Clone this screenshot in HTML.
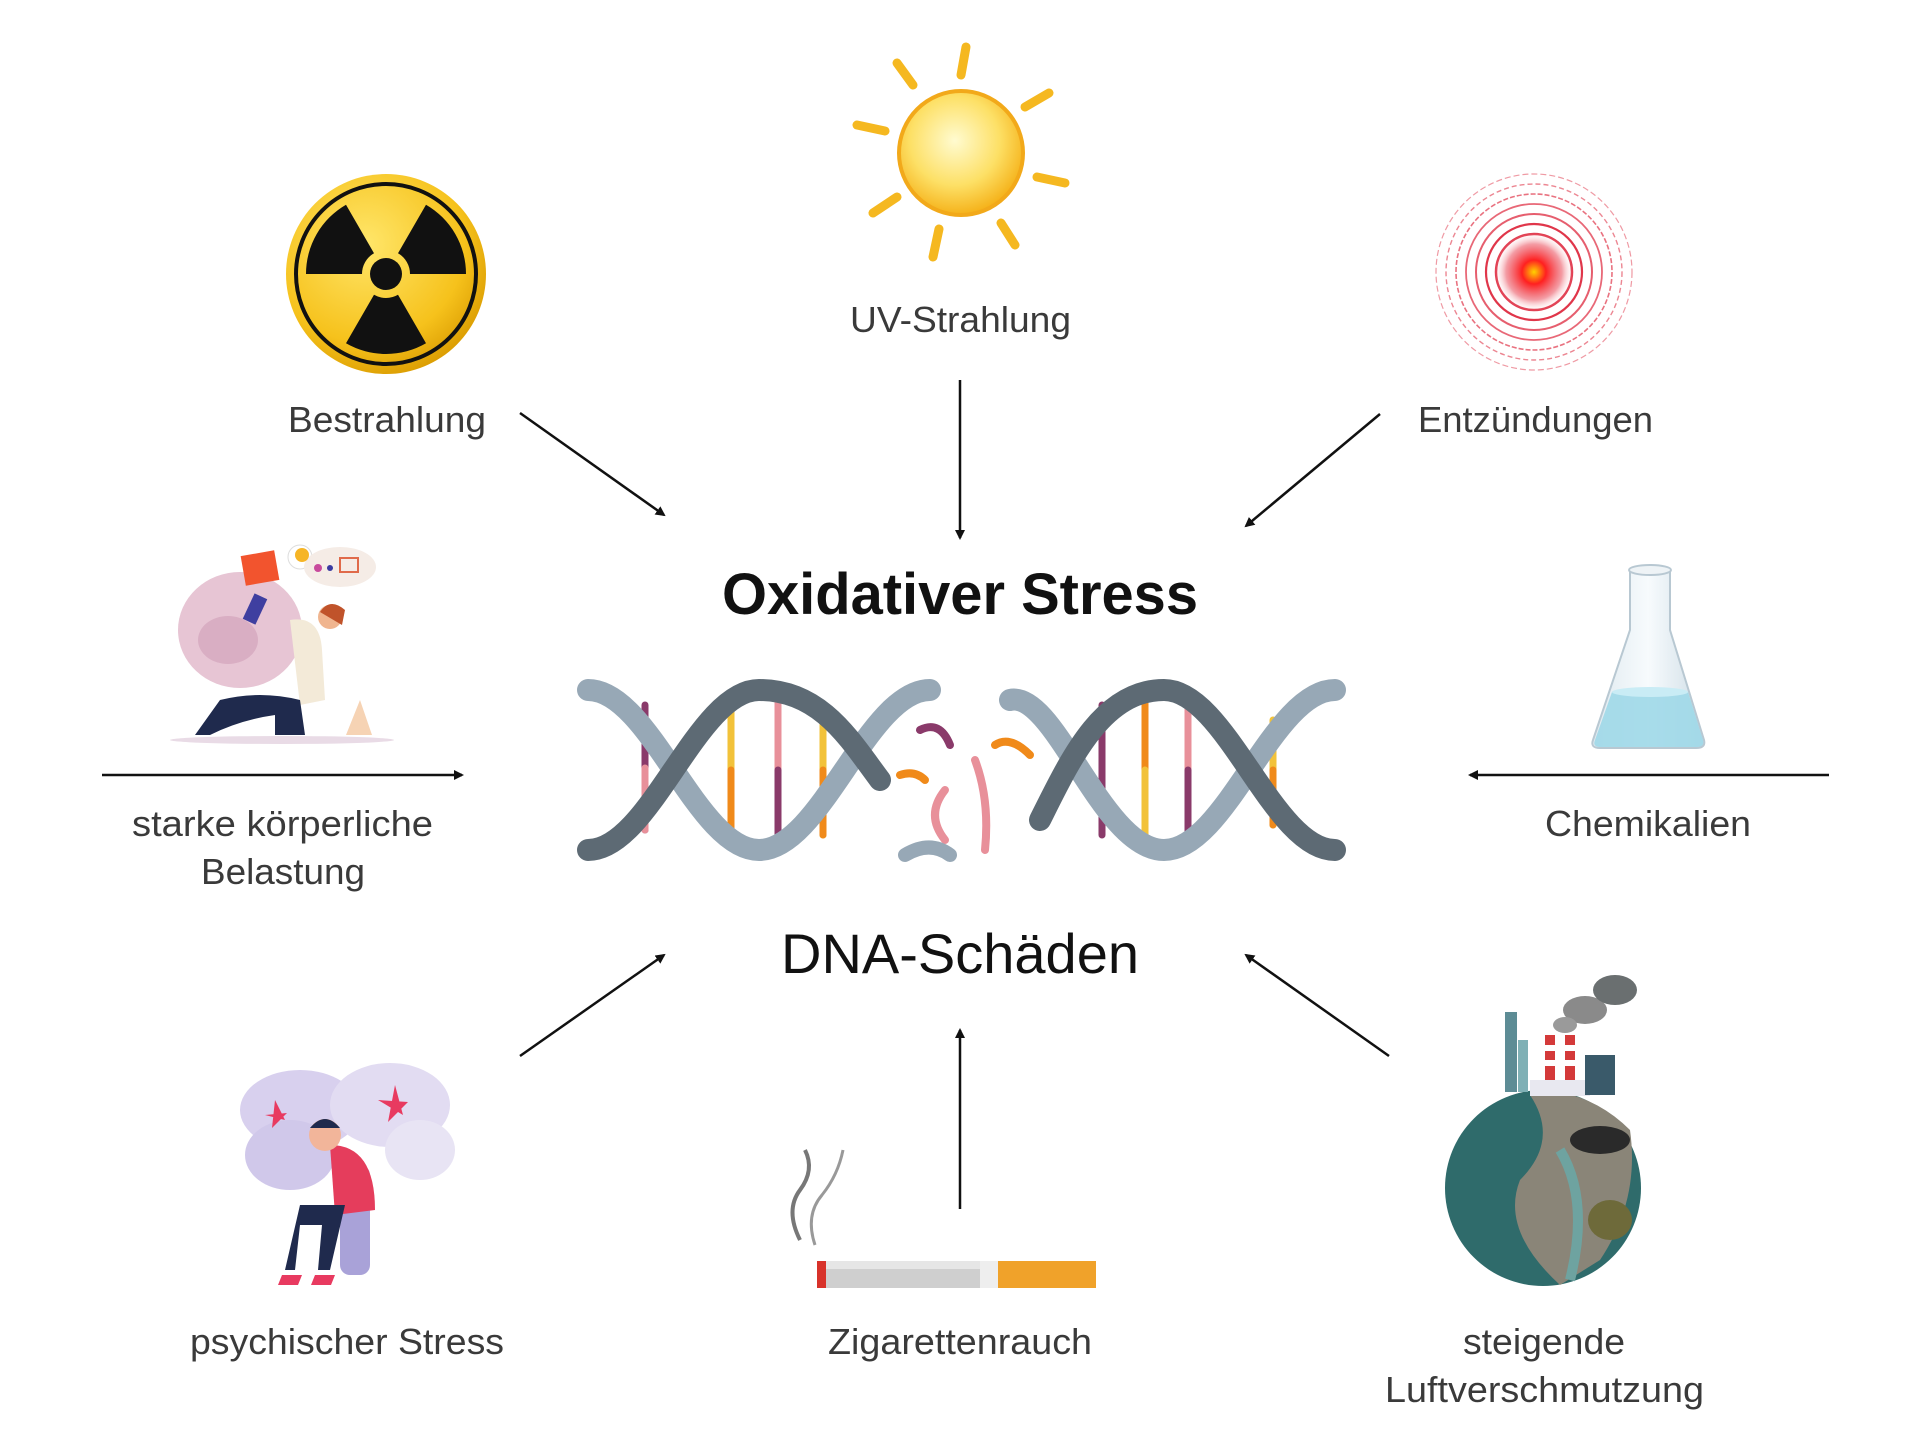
<!DOCTYPE html>
<html><head><meta charset="utf-8"><style>
html,body{margin:0;padding:0;background:#fff}
svg{display:block}
text{font-family:"Liberation Sans",sans-serif;fill:#3a3a3a}
</style></head><body>
<svg width="1920" height="1449" viewBox="0 0 1920 1449" xmlns="http://www.w3.org/2000/svg">
<defs>
<marker id="ah" markerWidth="10" markerHeight="10" refX="8" refY="5" orient="auto" markerUnits="userSpaceOnUse">
<path d="M0,0 L10,5 L0,10 Z" fill="#111"/></marker>
<radialGradient id="gold" cx="40%" cy="35%" r="70%"><stop offset="0" stop-color="#ffe66a"/><stop offset="0.7" stop-color="#f6c21c"/><stop offset="1" stop-color="#d99a00"/></radialGradient>
<radialGradient id="sun" cx="45%" cy="40%" r="60%"><stop offset="0" stop-color="#fffbd0"/><stop offset="0.6" stop-color="#fde066"/><stop offset="1" stop-color="#f5b21a"/></radialGradient>
<radialGradient id="fire" cx="50%" cy="50%" r="50%"><stop offset="0" stop-color="#ffd200"/><stop offset="0.3" stop-color="#ff2020"/><stop offset="0.7" stop-color="#e83a4a" stop-opacity="0.5"/><stop offset="1" stop-color="#fff" stop-opacity="0"/></radialGradient>
<linearGradient id="glass" x1="0" x2="1"><stop offset="0" stop-color="#dfe9ef"/><stop offset="0.5" stop-color="#f7fbfd"/><stop offset="1" stop-color="#cfdde6"/></linearGradient>
</defs>

<!-- Radiation -->
<g transform="translate(386,274)">
<circle r="100" fill="url(#gold)"/>
<circle r="90" fill="none" stroke="#111" stroke-width="4"/>
<g fill="#111">
<path d="M12,20.8 L40,69.3 A80,80 0 0 1 -40,69.3 L-12,20.8 A24,24 0 0 0 12,20.8 Z"/>
<path d="M-24,0 L-80,0 A80,80 0 0 1 -40,-69.3 L-12,-20.8 A24,24 0 0 0 -24,0 Z"/>
<path d="M12,-20.8 L40,-69.3 A80,80 0 0 1 80,0 L24,0 A24,24 0 0 0 12,-20.8 Z"/>
<circle r="16"/>
</g></g>

<!-- Sun -->
<g transform="translate(961,153)" stroke="#f5b820" stroke-width="9" stroke-linecap="round">
<line x1="0" y1="-78" x2="5" y2="-106"/>
<line x1="-48" y1="-68" x2="-64" y2="-90"/>
<line x1="-76" y1="-22" x2="-104" y2="-28"/>
<line x1="-64" y1="44" x2="-88" y2="60"/>
<line x1="-22" y1="76" x2="-28" y2="104"/>
<line x1="40" y1="70" x2="54" y2="92"/>
<line x1="76" y1="24" x2="104" y2="30"/>
<line x1="64" y1="-46" x2="88" y2="-60"/>
<circle r="62" fill="url(#sun)" stroke="#f2a91a" stroke-width="4"/>
</g>

<!-- Inflammation -->
<g transform="translate(1534,272)" fill="none" stroke="#e0364a">
<circle r="98" stroke-width="1.2" stroke-dasharray="6 3" opacity="0.5"/>
<circle r="88" stroke-width="1.4" stroke-dasharray="5 3" opacity="0.6"/>
<circle r="78" stroke-width="1.6" stroke-dasharray="5 2" opacity="0.7"/>
<circle r="68" stroke-width="1.8" opacity="0.75"/>
<circle r="58" stroke-width="2" opacity="0.8"/>
<circle r="48" stroke-width="2.2"/>
<circle r="38" stroke-width="2.5"/>
<circle r="40" fill="url(#fire)" stroke="none"/>
</g>

<!-- Flask -->
<g>
<path d="M1630,570 L1670,570 L1670,630 L1704,740 Q1706,748 1696,748 L1600,748 Q1590,748 1593,740 L1630,630 Z" fill="url(#glass)" stroke="#b8c8d2" stroke-width="2"/>
<ellipse cx="1650" cy="570" rx="21" ry="5" fill="#eef3f6" stroke="#b8c8d2" stroke-width="2"/>
<path d="M1612,692 L1688,692 L1703,740 Q1705,747 1696,747 L1601,747 Q1592,747 1595,740 Z" fill="#9fd8e8" opacity="0.9"/>
<ellipse cx="1650" cy="692" rx="38" ry="5" fill="#c9ecf5"/>
</g>

<!-- Person with bag -->
<g>
<ellipse cx="282" cy="740" rx="112" ry="4" fill="#e9dbe6"/>
<ellipse cx="240" cy="630" rx="62" ry="58" fill="#e7c5d4"/>
<ellipse cx="228" cy="640" rx="30" ry="24" fill="#d9aec3"/>
<rect x="243" y="553" width="34" height="30" fill="#f2542e" transform="rotate(-10 260 568)"/>
<rect x="248" y="595" width="14" height="28" fill="#3f3fa0" transform="rotate(25 255 609)"/>
<path d="M290,620 Q320,615 322,650 L325,700 L300,705 Z" fill="#f3ead8"/>
<circle cx="330" cy="617" r="12" fill="#f0b58f"/>
<path d="M320,612 Q330,597 345,610 L342,625 Z" fill="#c0532a"/>
<path d="M220,700 Q260,690 300,700 L305,735 L275,735 L275,715 Q240,720 210,735 L195,735 Z" fill="#1f2a4d"/>
<path d="M360,700 L372,735 L346,735 Z" fill="#f6d3b4"/>
<circle cx="300" cy="557" r="12" fill="#fff" stroke="#ddd"/>
<ellipse cx="340" cy="567" rx="36" ry="20" fill="#f5ece6"/>
<circle cx="302" cy="555" r="7" fill="#f6b526"/>
<circle cx="318" cy="568" r="4" fill="#c84a9c"/>
<circle cx="330" cy="568" r="3" fill="#3a3aa0"/>
<rect x="340" y="558" width="18" height="14" fill="none" stroke="#e06a4a" stroke-width="2"/>
</g>

<!-- DNA -->
<g fill="none" stroke-linecap="round">
<g stroke-width="7">
<line x1="645" y1="705" x2="645" y2="830" stroke="#8a3a6a"/>
<line x1="645" y1="768" x2="645" y2="830" stroke="#e8909a"/>
<line x1="731" y1="710" x2="731" y2="830" stroke="#f2c23a"/>
<line x1="731" y1="770" x2="731" y2="830" stroke="#f08a1a"/>
<line x1="778" y1="690" x2="778" y2="850" stroke="#e8909a"/>
<line x1="778" y1="770" x2="778" y2="850" stroke="#8a3a6a"/>
<line x1="823" y1="705" x2="823" y2="835" stroke="#f2c23a"/>
<line x1="823" y1="770" x2="823" y2="835" stroke="#f08a1a"/>
<line x1="1102" y1="705" x2="1102" y2="835" stroke="#8a3a6a"/>
<line x1="1145" y1="690" x2="1145" y2="850" stroke="#f08a1a"/>
<line x1="1145" y1="770" x2="1145" y2="850" stroke="#f2c23a"/>
<line x1="1188" y1="700" x2="1188" y2="840" stroke="#e8909a"/>
<line x1="1188" y1="770" x2="1188" y2="840" stroke="#8a3a6a"/>
<line x1="1273" y1="720" x2="1273" y2="825" stroke="#f2c23a"/>
<line x1="1273" y1="770" x2="1273" y2="825" stroke="#f08a1a"/>
</g>
<!-- broken middle fragments -->
<g stroke-width="8">
<path d="M920,730 Q940,720 950,745" stroke="#8a3a6a"/>
<path d="M900,775 Q915,770 925,780" stroke="#f08a1a"/>
<path d="M945,790 Q925,815 945,840" stroke="#e8909a"/>
<path d="M975,760 Q990,800 985,850" stroke="#e8909a"/>
<path d="M995,745 Q1010,735 1030,755" stroke="#f08a1a"/>
</g>
<g stroke-width="22">
<path d="M588,690 C650,690 697,850 759,850 C821,850 868,690 930,690" stroke="#97a8b6"/>
<path d="M588,850 C650,850 697,690 759,690 C821,690 850,740 880,780" stroke="#5d6a74"/>
<path d="M1335,690 C1273,690 1226,850 1164,850 C1102,850 1055,690 1010,700" stroke="#97a8b6"/>
<path d="M1335,850 C1273,850 1226,690 1164,690 C1102,690 1070,760 1040,820" stroke="#5d6a74"/>
<path d="M905,855 Q930,840 950,855" stroke="#97a8b6" stroke-width="14"/>
</g>
</g>

<!-- Stressed person -->
<g>
<ellipse cx="300" cy="1110" rx="60" ry="40" fill="#d8d0ee"/>
<ellipse cx="390" cy="1105" rx="60" ry="42" fill="#e2dcf2"/>
<ellipse cx="290" cy="1155" rx="45" ry="35" fill="#d0c8ea"/>
<ellipse cx="420" cy="1150" rx="35" ry="30" fill="#e8e4f4"/>
<path d="M275,1100 l10,20 l-20,-5 l22,-2 l-15,15 Z" fill="#e83a60"/>
<path d="M395,1085 l8,30 l-25,-15 l30,2 l-20,20 Z" fill="#e83a60"/>
<rect x="340" y="1165" width="30" height="110" rx="10" fill="#a9a2d8"/>
<path d="M330,1145 Q375,1145 375,1210 L335,1215 Z" fill="#e53d5c"/>
<circle cx="325" cy="1135" r="16" fill="#f2b59a"/>
<path d="M310,1128 Q325,1110 340,1128 Z" fill="#1f2a4d"/>
<path d="M300,1205 L345,1205 L330,1270 L318,1270 L322,1225 L300,1225 L295,1270 L285,1270 Z" fill="#1f2a4d"/>
<path d="M282,1275 l20,0 l-4,10 l-20,0 Z M315,1275 l20,0 l-4,10 l-20,0 Z" fill="#e83a60"/>
</g>

<!-- Cigarette -->
<g>
<path d="M800,1240 Q785,1210 800,1190 Q815,1170 805,1150" fill="none" stroke="#777" stroke-width="4"/>
<path d="M815,1245 Q805,1215 822,1195 Q838,1175 843,1150" fill="none" stroke="#999" stroke-width="3"/>
<rect x="817" y="1261" width="181" height="27" fill="#cfcfcf"/>
<rect x="817" y="1261" width="181" height="8" fill="#e6e6e6"/>
<rect x="817" y="1261" width="9" height="27" fill="#d8322a"/>
<rect x="980" y="1261" width="18" height="27" fill="#eeeeee"/>
<rect x="998" y="1261" width="98" height="27" fill="#f0a22a"/>
</g>

<!-- Globe / pollution -->
<g>
<circle cx="1543" cy="1188" r="98" fill="#2f6b6b"/>
<path d="M1530,1095 Q1560,1140 1520,1180 Q1500,1230 1560,1285 L1600,1260 Q1640,1200 1630,1130 Q1600,1100 1560,1092 Z" fill="#8a8578"/>
<path d="M1560,1150 Q1590,1200 1570,1280" fill="none" stroke="#6ea3a0" stroke-width="10"/>
<ellipse cx="1600" cy="1140" rx="30" ry="14" fill="#2a2a2a"/>
<ellipse cx="1610" cy="1220" rx="22" ry="20" fill="#6e6a3a"/>
<rect x="1505" y="1012" width="12" height="80" fill="#5d8c95"/>
<rect x="1518" y="1040" width="10" height="52" fill="#7fb0b5"/>
<rect x="1545" y="1035" width="10" height="58" fill="#d43a3a"/>
<rect x="1545" y="1045" width="10" height="6" fill="#fff"/>
<rect x="1545" y="1060" width="10" height="6" fill="#fff"/>
<rect x="1565" y="1035" width="10" height="58" fill="#d43a3a"/>
<rect x="1565" y="1045" width="10" height="6" fill="#fff"/>
<rect x="1565" y="1060" width="10" height="6" fill="#fff"/>
<rect x="1530" y="1080" width="60" height="16" fill="#e8e8f0"/>
<rect x="1585" y="1055" width="30" height="40" fill="#3a5a6a"/>
<ellipse cx="1585" cy="1010" rx="22" ry="14" fill="#8a8a8a"/>
<ellipse cx="1615" cy="990" rx="22" ry="15" fill="#6a6f70"/>
<ellipse cx="1565" cy="1025" rx="12" ry="8" fill="#9a9a9a"/>
</g>

<!-- Arrows -->
<g stroke="#111" stroke-width="2.5" marker-end="url(#ah)">
<line x1="520" y1="413" x2="664" y2="515"/>
<line x1="960" y1="380" x2="960" y2="538"/>
<line x1="1380" y1="414" x2="1246" y2="526"/>
<line x1="102" y1="775" x2="462" y2="775"/>
<line x1="1829" y1="775" x2="1470" y2="775"/>
<line x1="520" y1="1056" x2="664" y2="955"/>
<line x1="960" y1="1209" x2="960" y2="1030"/>
<line x1="1389" y1="1056" x2="1246" y2="955"/>
</g>

<!-- Labels -->
<g font-size="36">
<text x="288" y="432" textLength="198" lengthAdjust="spacingAndGlyphs">Bestrahlung</text>
<text x="850" y="332" textLength="221" lengthAdjust="spacingAndGlyphs">UV-Strahlung</text>
<text x="1418" y="432" textLength="235" lengthAdjust="spacingAndGlyphs">Entzündungen</text>
<text x="132" y="836" textLength="301" lengthAdjust="spacingAndGlyphs">starke körperliche</text>
<text x="201" y="884" textLength="164" lengthAdjust="spacingAndGlyphs">Belastung</text>
<text x="1545" y="836" textLength="206" lengthAdjust="spacingAndGlyphs">Chemikalien</text>
<text x="190" y="1354" textLength="314" lengthAdjust="spacingAndGlyphs">psychischer Stress</text>
<text x="828" y="1354" textLength="264" lengthAdjust="spacingAndGlyphs">Zigarettenrauch</text>
<text x="1463" y="1354" textLength="162" lengthAdjust="spacingAndGlyphs">steigende</text>
<text x="1385" y="1402" textLength="319" lengthAdjust="spacingAndGlyphs">Luftverschmutzung</text>
</g>
<text x="722" y="614" font-size="58" font-weight="bold" style="fill:#111" textLength="476" lengthAdjust="spacingAndGlyphs">Oxidativer Stress</text>
<text x="781" y="973" font-size="56" style="fill:#111" textLength="358" lengthAdjust="spacingAndGlyphs">DNA-Schäden</text>
</svg>
</body></html>
